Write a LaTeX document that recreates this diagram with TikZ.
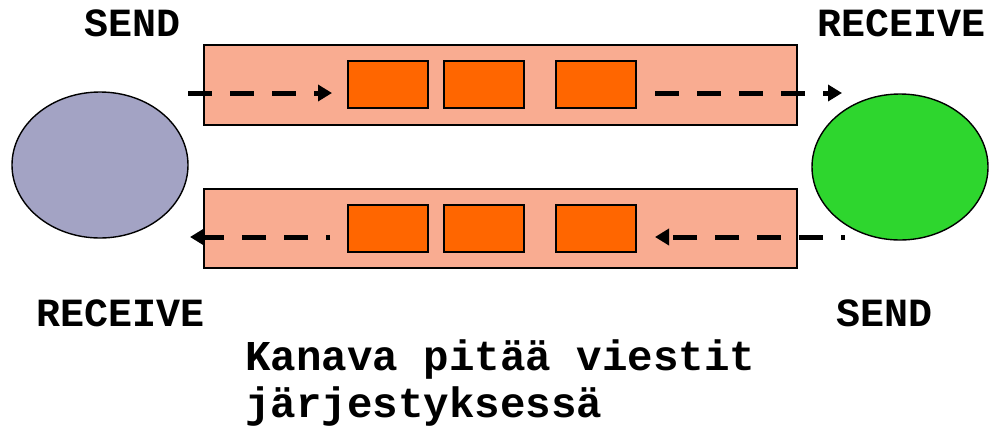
\documentclass[tikz,border=0pt]{standalone}
\usepackage{fontspec}
\setmonofont{Liberation Mono}
\usetikzlibrary{arrows.meta,shapes.geometric}
\definecolor{pipe}{RGB}{249,172,145}
\definecolor{msg}{RGB}{255,102,0}
\definecolor{procA}{RGB}{163,163,196}
\definecolor{procB}{RGB}{46,214,46}
\begin{document}
\begin{tikzpicture}[x=1pt,y=-1pt,
  channel/.style={draw=black,line width=1.6pt,fill=pipe},
  message/.style={draw=black,line width=1.6pt,fill=msg,minimum width=80pt,minimum height=47pt,inner sep=0pt},
  process/.style={draw=black,line width=1.4pt,ellipse,minimum width=176pt,minimum height=146pt,inner sep=0pt},
  flow/.style={line width=5pt,dash pattern=on 24pt off 18pt,-{Triangle[length=14pt,width=16pt]}},
  backflow/.style={flow,dash phase=20pt},
  label/.style={font=\ttfamily\bfseries\fontsize{40}{48}\selectfont,inner sep=0pt},
  caption/.style={font=\ttfamily\bfseries\fontsize{42.5}{50}\selectfont,inner sep=0pt,anchor=base west}]
\useasboundingbox (0,0) rectangle (1000,426);

% channels
\draw[channel] (204,45) rectangle (797,125);
\draw[channel] (204,189) rectangle (797,268);

% messages waiting in the channels
\node[message] (t1) at (388,84.5) {};
\node[message] (t2) at (484,84.5) {};
\node[message] (t3) at (596,84.5) {};
\node[message] (b1) at (388,228.5) {};
\node[message] (b2) at (484,228.5) {};
\node[message] (b3) at (596,228.5) {};

% processes
\node[process,fill=procA] (pa) at (100,165) {};
\node[process,fill=procB] (pb) at (900,167) {};

% flow of messages
\coordinate (ta) at (188,93);
\coordinate (tb) at (332,93);
\coordinate (tc) at (655,93);
\coordinate (td) at (842,93);
\coordinate (ba) at (845,237);
\coordinate (bb) at (655,237);
\coordinate (bc) at (330,237);
\coordinate (bd) at (190,237);
\draw[flow] (ta) -- (tb);
\draw[flow] (tc) -- (td);
\draw[backflow] (ba) -- (bb);
\draw[backflow] (bc) -- (bd);

% labels
\node[label] (s1) at (133,23) {SEND};
\node[label] (r1) at (901,23) {RECEIVE};
\node[label] (r2) at (121,313) {RECEIVE};
\node[label] (s2) at (884,313) {SEND};
\node[caption] (c1) at (245,370) {Kanava pitää viestit};
\node[caption] (c2) at (245,417) {järjestyksessä};
\end{tikzpicture}
\end{document}
